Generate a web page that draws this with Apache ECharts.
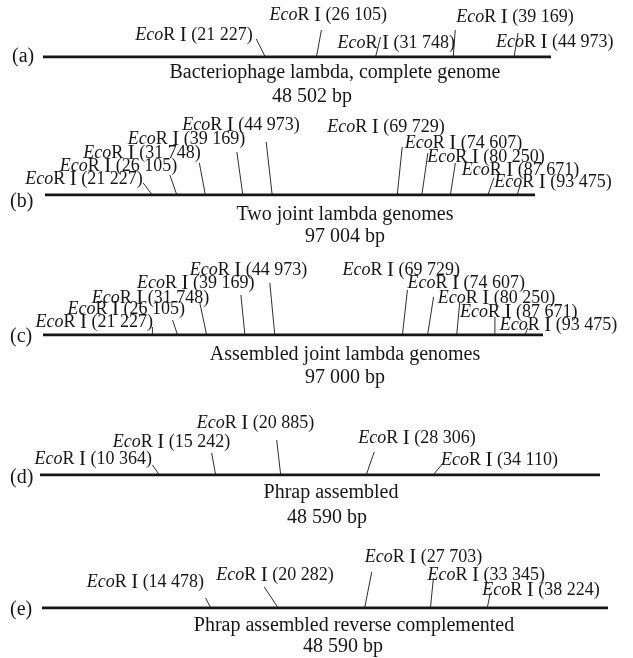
<!DOCTYPE html>
<html lang="en">
<head>
<meta charset="UTF-8">
<title>EcoR I sites</title>
<script src="https://cdn.jsdelivr.net/npm/echarts@6/dist/echarts.min.js"></script>
<style>
  html, body { margin: 0; padding: 0; background: #fff; }
</style>
</head>
<body>
<div id="main" style="width:633px;height:658px;"></div>
<script>
// data
var panelTags = ['(a)', '(b)', '(c)', '(d)', '(e)'];
var captions = [
    'Bacteriophage lambda, complete genome',
    'Two joint lambda genomes',
    'Assembled joint lambda genomes',
    'Phrap assembled',
    'Phrap assembled reverse complemented'
];
var genomeLengths = [48502, 97004, 97000, 48590, 48590];
var sitesA = [21227, 26105, 31748, 39169, 44973];
var sitesB = [21227, 26105, 31748, 39169, 44973, 69729, 74607, 80250, 87671, 93475];
var sitesC = [21227, 26105, 31748, 39169, 44973, 69729, 74607, 80250, 87671, 93475];
var sitesD = [10364, 15242, 20885, 28306, 34110];
var sitesE = [14478, 20282, 27703, 33345, 38224];
var allSites = [sitesA, sitesB, sitesC, sitesD, sitesE];

// layout: grid of each panel, text places, label offsets [dx, dy, leaderDx, leaderDy]
var layout = [
    {left: 43, width: 508, lineY: 57, tag: [12, 57], cap: [335, 73], bp: [312, 97],
     off: [[-130,-22,-9,-18], [-47,-42,5,-27], [-38,-14,5,-20], [3,-40,2,-27], [-18,-15,4,-24]]},
    {left: 45, width: 490, lineY: 195, tag: [10, 202], cap: [345, 215], bp: [345, 237],
     off: [[-127,-16,-9,-12], [-117,-29,-7,-20], [-122,-42,-6,-32], [-115,-56,-6,-43], [-90,-70,-6,-53],
           [-70,-68,5,-48], [-17,-52,6,-42], [-23,-38,5,-32], [-26,-25,6,-17], [-23,-13,3,-10]]},
    {left: 43, width: 500, lineY: 335, tag: [10, 337], cap: [345, 355], bp: [345, 378],
     off: [[-117,-13,0,-8], [-110,-26,-5,-15], [-115,-37,-7,-33], [-108,-52,-4,-40], [-85,-65,-5,-52],
           [-60,-65,5,-45], [-20,-52,6,-38], [-19,-37,3,-32], [-35,-23,0,-18], [-25,-10,3,-7]]},
    {left: 40, width: 560, lineY: 475, tag: [10, 478], cap: [331, 493], bp: [327, 518],
     off: [[-125,-16,-7,-10], [-103,-33,-4,-22], [-84,-52,-4,-35], [-8,-37,8,-23], [8,-15,10,-12]]},
    {left: 42, width: 566, lineY: 608, tag: [10, 610], cap: [354, 626], bp: [343, 647],
     off: [[-124,-26,-5,-10], [-62,-33,-14,-21], [0,-51,7,-36], [-3,-33,3,-30], [-5,-18,3,-15]]}
];

var serif = '"Liberation Serif", "Times New Roman", serif';
var ink = '#161616';

function fmt(n) {
    return String(n).replace(/\B(?=(\d{3})+(?!\d))/g, ' ');
}

var myChart = echarts.init(document.getElementById('main'));

var grids = [], xAxes = [], yAxes = [], series = [], graphics = [];

layout.forEach(function (p, i) {
    grids.push({left: p.left, width: p.width, top: p.lineY - 10, height: 10});
    xAxes.push({type: 'value', gridIndex: i, min: 0, max: genomeLengths[i], show: false});
    yAxes.push({type: 'value', gridIndex: i, min: 0, max: 1, show: false});

    // genome line
    series.push({
        type: 'line', xAxisIndex: i, yAxisIndex: i, silent: true,
        symbol: 'none', lineStyle: {color: ink, width: 2.8},
        data: [[0, 0], [genomeLengths[i], 0]]
    });

    // sites with leader lines and labels
    series.push({
        type: 'custom', xAxisIndex: i, yAxisIndex: i, silent: true, clip: false,
        data: allSites[i].map(function (v) { return [v, 0]; }),
        renderItem: function (params, api) {
            var pt = api.coord([api.value(0), 0]);
            var o = p.off[params.dataIndex];
            return {
                type: 'group',
                children: [
                    {type: 'line',
                     shape: {x1: pt[0], y1: pt[1], x2: pt[0] + o[2], y2: pt[1] + o[3]},
                     style: {stroke: ink, lineWidth: 0.9}},
                    {type: 'text', x: pt[0] + o[0], y: pt[1] + o[1],
                     style: {
                        text: '{i|Eco}R {n|I} (' + fmt(api.value(0)) + ')',
                        fontFamily: serif, fontSize: 18, fill: ink,
                        align: 'left', verticalAlign: 'middle',
                        rich: {
                            i: {fontStyle: 'italic', fontFamily: serif, fontSize: 18, fill: ink},
                            n: {fontFamily: serif, fontSize: 21, fill: ink}
                        }
                     }}
                ]
            };
        }
    });

    graphics.push(
        {type: 'text', x: p.tag[0], y: p.tag[1],
         style: {text: panelTags[i], fontFamily: serif, fontSize: 20, fill: ink, align: 'left', verticalAlign: 'middle'}},
        {type: 'text', x: p.cap[0], y: p.cap[1],
         style: {text: captions[i], fontFamily: serif, fontSize: 20, fill: ink, align: 'center', verticalAlign: 'middle'}},
        {type: 'text', x: p.bp[0], y: p.bp[1],
         style: {text: fmt(genomeLengths[i]) + ' bp', fontFamily: serif, fontSize: 20, fill: ink, align: 'center', verticalAlign: 'middle'}}
    );
});

myChart.setOption({
    animation: false,
    grid: grids,
    xAxis: xAxes,
    yAxis: yAxes,
    graphic: graphics,
    series: series
});
</script>
</body>
</html>
